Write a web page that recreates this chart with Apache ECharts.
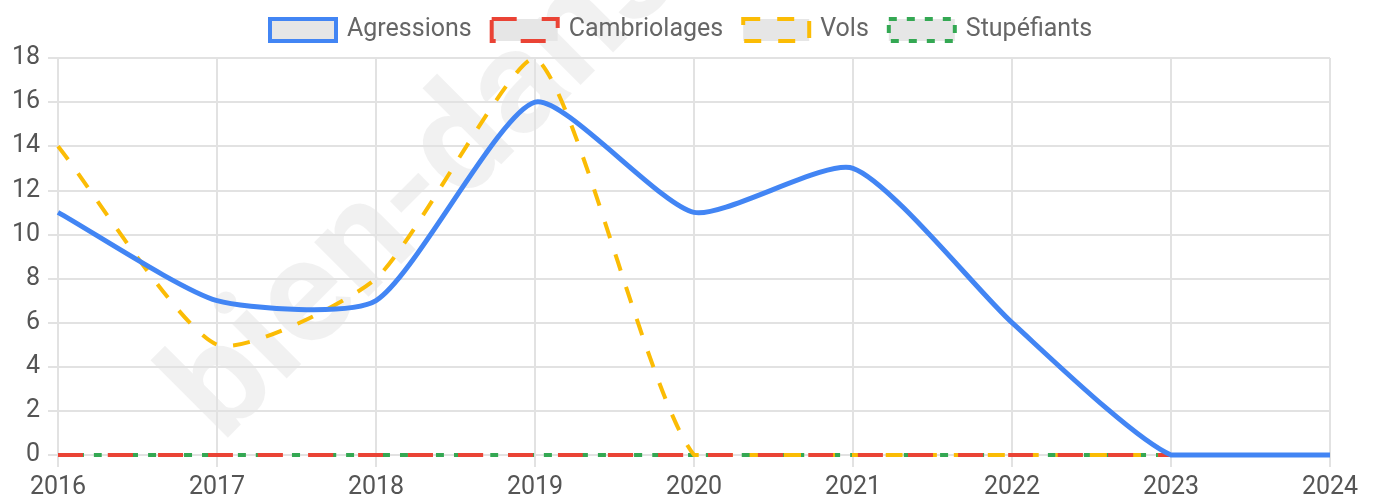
<!DOCTYPE html>
<html>
<head>
<meta charset="utf-8">
<script src="https://cdn.jsdelivr.net/npm/echarts@6/dist/echarts.min.js"></script>
<style>
html, body { margin: 0; padding: 0; background: #fff; }
#chart { width: 1379px; height: 502px; }
</style>
</head>
<body>
<div id="chart"></div>
<script>
// données
const years = ['2016', '2017', '2018', '2019', '2020', '2021', '2022', '2023', '2024']
const agressions = [11, 7, 7, 16, 11, 13, 6, 0, 0]
const cambriolages = [0, 0, 0, 0, 0, 0, 0, 0, null]
const vols = [14, 5, 8, 18, 0, 0, 0, 0, null]
const stupefiants = [0, 0, 0, 0, 0, 0, 0, 0, null]

const font = 'Roboto'
const gridColor = '#e2e2e2'
const tension = 0.2

function clamp(v, a, b) {
  return Math.max(a, Math.min(b, v))
}

// points de contrôle façon spline (prev, cur, next en pixels)
function controlPoints(p0, p1, p2, area) {
  const d01 = Math.hypot(p1[0] - p0[0], p1[1] - p0[1])
  const d12 = Math.hypot(p2[0] - p1[0], p2[1] - p1[1])
  let s01 = d01 / (d01 + d12)
  let s12 = d12 / (d01 + d12)
  if (isNaN(s01)) s01 = 0
  if (isNaN(s12)) s12 = 0
  const fa = tension * s01
  const fb = tension * s12
  const cap = function(p) {
    return [clamp(p[0], area.x, area.x + area.width), clamp(p[1], area.y, area.y + area.height)]
  }
  return {
    prev: cap([p1[0] - fa * (p2[0] - p0[0]), p1[1] - fa * (p2[1] - p0[1])]),
    next: cap([p1[0] + fb * (p2[0] - p0[0]), p1[1] + fb * (p2[1] - p0[1])])
  }
}

function curve(values, color, width, dash) {
  return function(params, api) {
    if (params.dataIndex !== 0) return
    const area = params.coordSys
    const segs = []
    let seg = []
    values.forEach(function(v, i) {
      if (v == null) {
        if (seg.length) segs.push(seg)
        seg = []
      } else {
        seg.push(api.coord([i, v]))
      }
    })
    if (seg.length) segs.push(seg)
    let d = ''
    segs.forEach(function(s) {
      const cps = s.map(function(p, i) {
        return controlPoints(s[i - 1] || p, p, s[i + 1] || p, area)
      })
      d += 'M' + s[0][0] + ' ' + s[0][1]
      for (let i = 1; i < s.length; i++) {
        d += ' C' + cps[i - 1].next.join(' ') + ' ' + cps[i].prev.join(' ') + ' ' + s[i].join(' ')
      }
    })
    return {
      type: 'path',
      shape: { pathData: d },
      style: {
        fill: 'none',
        stroke: color,
        lineWidth: width,
        lineDash: dash,
        lineCap: 'butt',
        lineJoin: 'round'
      }
    }
  }
}

function serie(name, data, color, width, dash, z) {
  return {
    name: name,
    type: 'custom',
    z: z,
    clip: false,
    encode: { x: 0, y: 1 },
    data: data.map(function(v, i) { return [i, v == null ? '-' : v] }),
    itemStyle: { color: color },
    renderItem: curve(data, color, width, dash)
  }
}

function legendItem(name, color, dash) {
  return {
    name: name,
    itemStyle: {
      color: '#e6e6e6',
      borderColor: color,
      borderWidth: 4,
      borderType: dash
    }
  }
}

const chart = echarts.init(document.getElementById('chart'))
chart.setOption({
  animation: false,
  grid: { left: 58, right: 49, top: 58, bottom: 47, containLabel: false },
  graphic: [{
    type: 'text',
    x: 248,
    y: 469,
    rotation: Math.PI / 4,
    silent: true,
    z: -10,
    style: {
      text: 'bien-dans-ma-ville.fr',
      font: 'bold 146px Roboto',
      fill: 'rgba(0,0,0,0.055)',
      verticalAlign: 'bottom'
    }
  }],
  legend: {
    top: 17,
    left: 268,
    padding: 0,
    icon: 'rect',
    itemWidth: 66,
    itemHeight: 22,
    itemGap: 18,
    textStyle: { fontFamily: font, fontSize: 25, color: '#666', padding: [0, 0, 0, 6] },
    data: [
      legendItem('Agressions', '#4285f4', 'solid'),
      legendItem('Cambriolages', '#ea4335', [25, 25]),
      legendItem('Vols', '#fbbc05', [17, 17]),
      legendItem('Stupéfiants', '#34a853', [8, 10])
    ]
  },
  xAxis: {
    type: 'category',
    data: years,
    boundaryGap: false,
    axisLine: { lineStyle: { color: gridColor, width: 2 } },
    axisTick: { show: true, length: 12, lineStyle: { color: gridColor, width: 2 } },
    splitLine: { show: true, lineStyle: { color: gridColor, width: 2 } },
    axisLabel: { fontFamily: font, fontSize: 25, color: '#555', margin: 20 }
  },
  yAxis: {
    type: 'value',
    min: 0,
    max: 18,
    interval: 2,
    axisLine: { show: true, lineStyle: { color: gridColor, width: 2 } },
    axisTick: { show: true, length: 10, lineStyle: { color: gridColor, width: 2 } },
    splitLine: { show: true, lineStyle: { color: gridColor, width: 2 } },
    axisLabel: { fontFamily: font, fontSize: 25, color: '#555', margin: 18 }
  },
  series: [
    serie('Agressions', agressions, '#4285f4', 5, null, 5),
    serie('Cambriolages', cambriolages, '#ea4335', 4, [25, 25], 4),
    serie('Vols', vols, '#fbbc05', 4, [17, 17], 3),
    serie('Stupéfiants', stupefiants, '#34a853', 4, [8, 10], 2)
  ]
})
</script>
</body>
</html>
